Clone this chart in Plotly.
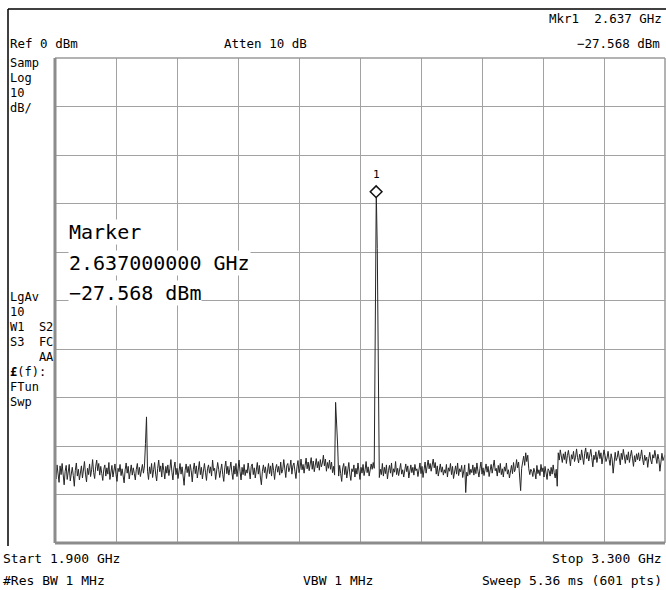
import numpy as np
import plotly.graph_objects as go

# ---------------- data ----------------
start_ghz = 1.900
stop_ghz = 3.300
ref_dbm = 0
db_per_div = 10
marker_freq = 2.637
marker_level = -27.568

trace_dbm = [
    -84.2,-86.8,-83.9,-85.7,-87.5,-84.1,-85.9,-83.6,-86.4,-88.0,-85.2,-84.0,-86.9,-85.1,-83.8,-87.2,-85.6,-84.4,-86.1,-88.3,
    -85.0,-83.5,-86.2,-84.8,-87.0,-85.3,-84.1,-86.6,-85.0,-83.2,-85.8,-87.4,-84.6,-85.9,-83.7,-86.3,-84.9,-82.8,-85.5,-86.7,
    -84.3,-82.9,-85.1,-83.6,-86.0,-84.2,-85.7,-87.1,-84.8,-83.9,-86.2,-84.5,-85.8,-83.4,-86.9,-85.2,-84.0,-86.4,-85.1,-83.7,
    -85.9,-87.3,-84.6,-85.3,-83.8,-86.1,-84.7,-85.9,-87.6,-84.9,-83.5,-85.6,-84.2,-86.8,-85.4,-83.9,-86.0,-84.5,-85.7,-87.0,
    -84.8,-83.6,-85.9,-84.4,-86.3,-85.0,-83.8,-85.6,-84.1,
    -79.5,-74.0,
    -85.2,-86.9,-84.3,-85.7,-83.6,-86.5,-84.9,-83.4,-85.8,-87.2,-84.6,-82.9,-85.3,-84.1,-86.4,-83.5,-85.0,-86.8,-84.2,-85.6,
    -83.9,-86.1,-84.7,-82.8,-85.4,-87.0,-84.5,-83.3,-85.9,-84.6,-86.7,-85.1,-83.6,-85.8,-84.3,-86.2,-88.1,-85.0,-83.7,-85.5,
    -84.2,-86.3,-83.8,-85.1,-87.4,-84.9,-83.5,-85.7,-84.1,-86.6,-85.3,-83.2,-85.9,-84.4,-86.8,-85.0,-83.6,-85.4,-87.1,-84.7,
    -83.9,-85.6,-84.3,-86.2,-82.9,-85.1,-84.6,-86.9,-85.2,-83.4,-84.8,-86.5,-85.0,-83.7,-85.9,-87.3,-84.5,-83.1,-85.7,-84.2,
    -86.0,-84.8,-83.3,-85.5,-86.9,-84.1,-85.8,-83.6,-86.3,-84.7,-82.9,-85.2,-87.0,-84.4,-85.9,-83.8,-86.1,-84.9,-85.6,-83.5,
    -85.3,-86.8,-84.2,-83.7,-85.9,-84.5,-86.6,-85.1,-83.4,-85.8,-84.0,-86.4,-88.0,-85.2,-83.9,-85.5,-84.3,-86.7,-84.8,-83.6,
    -85.7,-84.1,-86.2,-83.5,-85.0,-86.9,-84.6,-83.8,-85.4,-84.2,-86.0,-83.3,-85.6,-84.9,-82.8,-85.1,-86.5,-84.0,-83.6,-85.3,
    -84.5,-82.9,-85.8,-84.1,-83.5,-85.2,-86.7,-84.3,-83.0,-85.5,-84.6,-82.7,-84.9,-83.8,-85.6,-84.0,-82.5,-84.7,-83.3,-85.1,
    -83.6,-82.4,-84.8,-83.1,-85.3,-83.9,-82.6,-84.5,-83.2,-85.0,-82.8,-84.3,-83.5,-81.9,-84.1,-82.7,-85.2,-83.4,-84.6,-82.9,
    -84.8,-83.3,-85.5,-84.2,-86.0,
    -71.0,-74.5,-79.8,
    -86.2,-84.0,-85.7,-87.3,-84.5,-83.6,-85.9,-84.2,-86.6,-85.0,-83.4,-85.8,-87.1,-84.7,-85.3,-83.9,-86.4,-84.6,-85.8,-83.5,
    -85.2,-86.9,-84.4,-85.6,-83.8,-86.1,-84.9,-83.2,-85.5,-84.3,-86.2,-85.0,-83.7,-84.8,-83.4,-84.6,
    -56.0,-27.568,-39.3,-68.2,
    -86.5,-84.8,-85.9,-83.6,-86.2,-84.4,-85.7,-83.9,-86.8,-85.1,-84.0,-85.6,-83.5,-86.3,-84.7,-85.4,-83.2,-85.9,-84.6,-86.1,
    -84.3,-83.6,-85.8,-84.9,-86.4,-85.0,-83.7,-85.3,-84.1,-86.6,-85.2,-83.9,-85.5,-84.4,-86.0,-83.8,-85.1,-84.7,-86.3,-85.0,
    -83.5,-85.7,-84.2,-86.5,-84.8,-83.3,-85.6,-84.0,-82.9,-84.7,-83.6,-85.2,-83.9,-82.7,-84.5,-83.4,-85.8,-84.1,-86.2,-84.6,
    -83.7,-85.4,-84.3,-86.0,-84.9,-85.6,-83.8,-86.4,-84.5,-85.2,-83.6,-85.9,-84.2,-86.7,-85.0,-84.1,-85.8,-83.5,-86.1,-84.7,
    -85.3,-84.0,-86.5,-85.1,-83.9,-89.6,-85.4,-86.2,-83.6,-85.9,-84.8,-85.5,-83.9,-86.0,-84.4,-85.7,-83.5,-85.2,-86.4,-84.6,
    -83.3,-85.8,-84.5,-86.1,-84.9,-83.7,-85.4,-84.2,-86.3,-85.0,-83.8,-85.6,-84.4,-82.9,-85.1,-84.6,-86.2,-84.0,-85.5,-83.6,
    -85.9,-84.7,-86.4,-84.3,-85.2,-83.5,-85.8,-84.9,-86.6,-85.1,-84.0,-85.7,-83.4,-85.3,-84.6,-82.8,
    -84.5,-83.3,-85.8,-89.2,-84.6,-83.5,-82.1,-84.0,-81.4,-83.2,-81.9,-84.7,-85.9,-84.8,-85.2,-86.3,
    -84.6,-85.4,-86.8,-84.0,-85.7,-84.9,-86.1,-83.8,-85.3,-84.5,-86.4,-84.2,-85.6,-86.9,-84.7,-85.1,-86.2,-84.4,-85.8,-83.9,
    -85.5,-86.6,-84.8,-88.3,
    -81.4,-82.9,-80.8,-82.1,-83.4,-81.6,-82.8,-81.2,-83.6,-82.0,-80.9,-82.5,-84.1,-81.8,-82.7,-81.1,-83.2,-82.3,-80.6,-82.4,
    -83.5,-81.7,-82.9,-80.8,-82.2,-83.8,-81.5,-80.4,-82.6,-81.3,-83.1,-82.0,-80.7,-82.4,-84.3,-81.9,-82.8,-81.2,-83.4,-82.1,
    -80.9,-82.6,-81.4,-83.7,-82.3,-80.8,-81.9,-83.2,-82.5,-81.1,-82.8,-84.0,-81.6,-82.7,-85.6,-82.2,-81.3,-83.0,-82.4,-81.0,
    -82.6,-83.9,-81.5,-82.8,-80.7,-82.3,-83.6,-81.8,-82.9,-81.2,-83.4,-82.1,-80.9,-82.5,-84.2,-82.0,-83.3,-81.6,-82.8,-81.4,
    -83.1,-82.2,-80.8,-82.7,-83.9,-81.9,-83.0,-82.3,-84.4,-82.6,-81.3,-82.9,-83.7,-81.8,-82.5,-80.9,-82.3,-83.6,-81.7,-82.8,
    -85.2,-82.4,-81.5,-83.0,-82.2,-81.8,
]

freq_ghz = np.linspace(start_ghz, stop_ghz, len(trace_dbm))

left_labels_top = ["Samp", "Log", "10", "dB/"]
left_labels_bottom = ["LgAv", "10", "W1  S2", "S3  FC", "    AA", "<b>£</b>(f):", "FTun", "Swp"]

# ---------------- layout geometry ----------------
W, H = 666, 590
L, R, T, B = 55, 665, 58, 543
FONT = "DejaVu Sans Mono"


def px(xp):
    return (xp - L) / (R - L)


def py(yp):
    return (B - yp) / (B - T)


fig = go.Figure()
fig.add_trace(go.Scatter(
    x=freq_ghz, y=trace_dbm, mode="lines",
    line=dict(color="#262626", width=1), hoverinfo="skip", showlegend=False,
))
fig.add_trace(go.Scatter(
    x=[marker_freq], y=[marker_level], mode="markers",
    marker=dict(symbol="diamond", size=9, color="white",
                line=dict(color="#111", width=1.5)),
    showlegend=False, hoverinfo="skip",
))

annotations = []


def txt(text, xp, yp, anchor="left", size=13):
    annotations.append(dict(
        text=text, xref="paper", yref="paper", x=px(xp), y=py(yp),
        xanchor=anchor, yanchor="middle", showarrow=False,
        font=dict(family=FONT, size=size, color="black"),
    ))


txt("Mkr1  2.637 GHz", 664, 18, "right", 12.5)
txt("Ref 0 dBm", 8, 43, "left", 12.5)
txt("Atten 10 dB", 222, 43, "left", 12.5)
txt("−27.568 dBm", 662, 43, "right", 12.5)
for i, s in enumerate(left_labels_top):
    txt(s, 8, 63 + 15 * i, "left", 12)
for i, s in enumerate(left_labels_bottom):
    txt(s, 8, 297 + 15 * i, "left", 12)
txt("Start 1.900 GHz", 1, 558, "left", 13)
txt("Stop 3.300 GHz", 664, 558, "right", 13)
txt("#Res BW 1 MHz", 1, 580, "left", 13)
txt("VBW 1 MHz", 301, 580, "left", 13)
txt("Sweep 5.36 ms (601 pts)", 664, 580, "right", 13)

# marker readout block
for s, yp in [("Marker", 232), ("2.637000000 GHz", 263), ("−27.568 dBm", 293)]:
    annotations.append(dict(
        text=s, xref="paper", yref="paper", x=px(68), y=py(yp),
        xanchor="left", yanchor="middle", showarrow=False, bgcolor="white",
        borderpad=0, font=dict(family=FONT, size=20, color="black"),
    ))

annotations.append(dict(
    text="1", x=marker_freq, y=marker_level, xref="x", yref="y",
    showarrow=False, yshift=17, font=dict(family=FONT, size=11, color="black"),
))

shapes = [
    # outer black frame (top and left)
    dict(type="line", xref="paper", yref="paper", x0=px(8), x1=px(666), y0=py(9), y1=py(9),
         line=dict(color="black", width=1.5)),
    dict(type="line", xref="paper", yref="paper", x0=px(8), x1=px(8), y0=py(9), y1=py(546),
         line=dict(color="black", width=1.5)),
    # graticule border
    dict(type="line", xref="paper", yref="paper", x0=0, x1=1, y0=1, y1=1,
         line=dict(color="#9a9a9a", width=1.5)),
    dict(type="line", xref="paper", yref="paper", x0=1, x1=1, y0=0, y1=1,
         line=dict(color="#9a9a9a", width=1.5)),
    dict(type="line", xref="paper", yref="paper", x0=0, x1=0, y0=0, y1=1,
         line=dict(color="#8c8c8c", width=3)),
    dict(type="line", xref="paper", yref="paper", x0=0, x1=1, y0=0, y1=0,
         line=dict(color="#8c8c8c", width=3)),
]

fig.update_layout(
    width=W, height=H,
    margin=dict(l=L, r=W - R, t=T, b=H - B, pad=0),
    paper_bgcolor="white", plot_bgcolor="white",
    annotations=annotations, shapes=shapes,
    xaxis=dict(range=[start_ghz, stop_ghz], dtick=(stop_ghz - start_ghz) / 10, tick0=start_ghz,
               showgrid=True, gridcolor="#a2a2a2", gridwidth=1, zeroline=False,
               showticklabels=False, ticks="", showline=False, fixedrange=True),
    yaxis=dict(range=[ref_dbm - 10 * db_per_div, ref_dbm], dtick=db_per_div, tick0=ref_dbm,
               showgrid=True, gridcolor="#a2a2a2", gridwidth=1, zeroline=False,
               showticklabels=False, ticks="", showline=False, fixedrange=True),
    font=dict(family=FONT),
)

fig.write_html(
    "out.html",
    config={"displayModeBar": False},
    post_script="document.body.style.margin='0px';document.body.style.padding='0px';",
)
